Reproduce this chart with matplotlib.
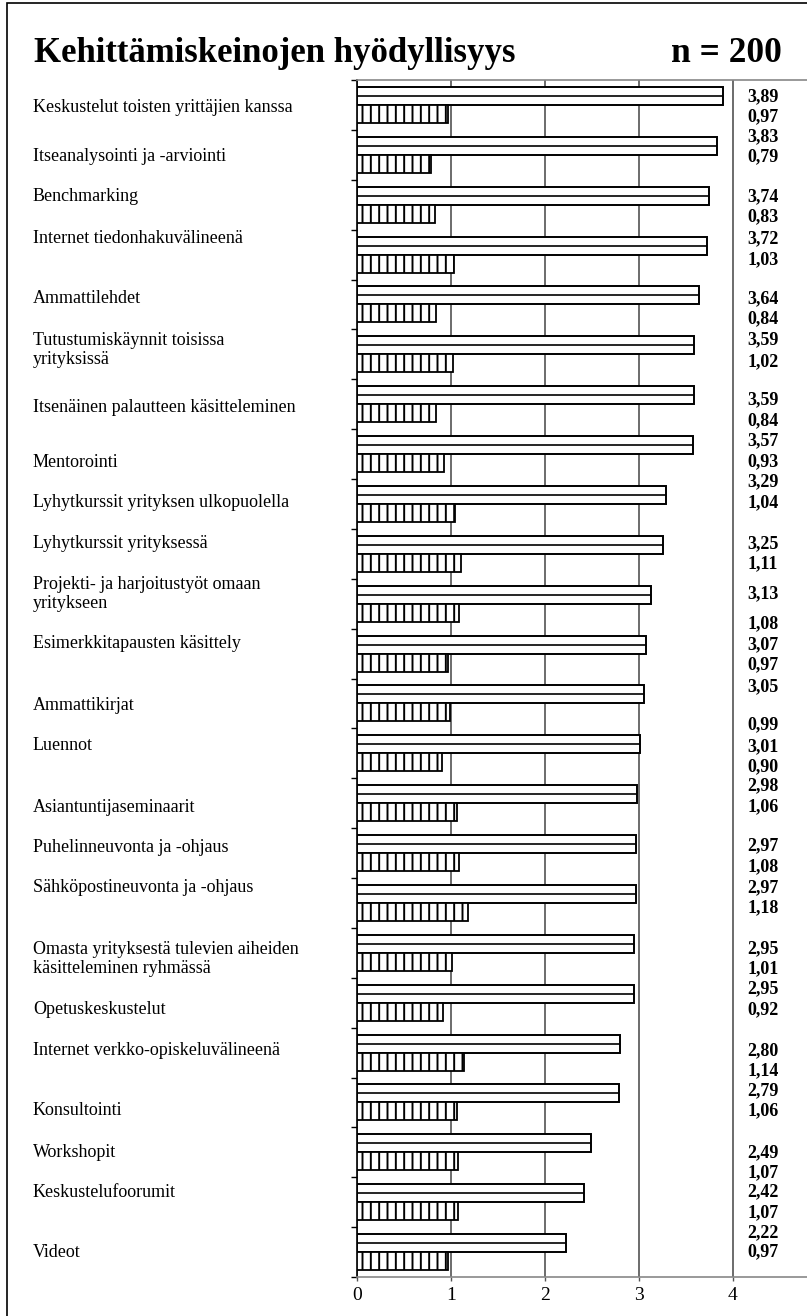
import matplotlib
matplotlib.use("Agg")
import matplotlib.pyplot as plt
from matplotlib.patches import Rectangle
from matplotlib.transforms import blended_transform_factory

# Kehittämiskeinojen hyödyllisyys (n = 200): keskiarvo ja keskihajonta
categories = [
    "Keskustelut toisten yrittäjien kanssa",
    "Itseanalysointi ja -arviointi",
    "Benchmarking",
    "Internet tiedonhakuvälineenä",
    "Ammattilehdet",
    "Tutustumiskäynnit toisissa\nyrityksissä",
    "Itsenäinen palautteen käsitteleminen",
    "Mentorointi",
    "Lyhytkurssit yrityksen ulkopuolella",
    "Lyhytkurssit yrityksessä",
    "Projekti- ja harjoitustyöt omaan\nyritykseen",
    "Esimerkkitapausten käsittely",
    "Ammattikirjat",
    "Luennot",
    "Asiantuntijaseminaarit",
    "Puhelinneuvonta ja -ohjaus",
    "Sähköpostineuvonta ja -ohjaus",
    "Omasta yrityksestä tulevien aiheiden\nkäsitteleminen ryhmässä",
    "Opetuskeskustelut",
    "Internet verkko-opiskeluvälineenä",
    "Konsultointi",
    "Workshopit",
    "Keskustelufoorumit",
    "Videot",
]
means = [3.89, 3.83, 3.74, 3.72, 3.64, 3.59, 3.59, 3.57, 3.29, 3.25, 3.13, 3.07,
         3.05, 3.01, 2.98, 2.97, 2.97, 2.95, 2.95, 2.80, 2.79, 2.49, 2.42, 2.22]
stds = [0.97, 0.79, 0.83, 1.03, 0.84, 1.02, 0.84, 0.93, 1.04, 1.11, 1.08, 0.97,
        0.99, 0.90, 1.06, 1.08, 1.18, 1.01, 0.92, 1.14, 1.06, 1.07, 1.07, 0.97]
x_ticks = [0, 1, 2, 3, 4, 5]

# the texts in the original were typed in by hand and don't sit exactly on
# the bars -- nudges in pixels from the middle of each row (+ = down)
label_dy = [3, 2, -8, -16, -6, -4, 3, 8, -1, -10, -10, -10,
            2, -8, 4, -6, -15, 6, 7, -2, 8, 0, -10, 0]
mean_dy = [-8, -18, -8, -16, -6, -15, -4, -13, -22, -10, -10, -9,
           -17, -7, -17, -7, -15, -4, -14, -2, -12, 0, -10, -19]
std_dy = [12, 2, 12, 5, 14, 7, 17, 8, -1, 10, 20, 11,
          21, 13, 4, 14, 5, 16, 7, 18, 8, 20, 11, 0]

W, H = 807, 1316
plt.rcParams["font.family"] = ["Liberation Serif", "DejaVu Serif"]
plt.rcParams["hatch.linewidth"] = 1.4

fig = plt.figure(figsize=(W / 100, H / 100), dpi=100)
ax = fig.add_axes([357 / W, 39 / H, 470 / W, 1197 / H])

n = len(categories)
pos = list(range(n))
row_px = 1197 / n
h = 0.36
mean_y = [p - h / 2 for p in pos]
std_y = [p + h / 2 for p in pos]

ax.barh(mean_y, means, height=h, color="white", edgecolor="black", linewidth=1.4, zorder=3)
ax.hlines(mean_y, 0, means, color="black", linewidth=1.2, zorder=4)
ax.barh(std_y, stds, height=h, color="white", edgecolor="black", linewidth=1.3,
        hatch="||", zorder=3)

ax.set_xlim(0, 5)
ax.set_ylim(n - 0.5, -0.5)
ax.set_xticks(x_ticks)
ax.set_xticklabels([str(t) for t in x_ticks], fontsize=14)
ax.set_yticks([p - 0.5 for p in pos] + [n - 0.5])
ax.set_yticklabels([])
ax.tick_params(axis="y", direction="out", length=4, width=1, color="black")
ax.tick_params(axis="x", direction="out", length=3, width=1, color="#555555", pad=4)

ax.grid(axis="x", color="#444444", linewidth=1.1)
ax.set_axisbelow(True)
for side in ("top", "bottom"):
    ax.spines[side].set_color("#888888")
    ax.spines[side].set_linewidth(1.2)
ax.spines["right"].set_visible(False)
ax.spines["left"].set_color("black")
ax.spines["left"].set_linewidth(1.2)

# category names on the left
lab_tr = blended_transform_factory(fig.transFigure, ax.transData)
for p, name, dy in zip(pos, categories, label_dy):
    ax.text(33 / W, p + dy / row_px, name, transform=lab_tr, ha="left", va="center",
            fontsize=13, linespacing=1.15)

# value labels on the right
for p, m, s, dm, ds in zip(pos, means, stds, mean_dy, std_dy):
    ax.text(4.15, p + dm / row_px, f"{m:.2f}".replace(".", ","), ha="left", va="center",
            fontsize=13, fontweight="bold", clip_on=False)
    ax.text(4.15, p + ds / row_px, f"{s:.2f}".replace(".", ","), ha="left", va="center",
            fontsize=13, fontweight="bold", clip_on=False)

fig.text(34 / W, 1 - 62 / H, "Kehittämiskeinojen hyödyllisyys", ha="left", va="baseline",
         fontsize=25, fontweight="bold")
fig.text(782 / W, 1 - 62 / H, "n = 200", ha="right", va="baseline",
         fontsize=25.5, fontweight="bold")

# frame around the picture (right and bottom edges fall outside)
fig.patches.append(Rectangle((7 / W, -0.1), 1.2, 1 - 3 / H + 0.1, transform=fig.transFigure,
                             fill=False, edgecolor="black", linewidth=1.2))

fig.savefig("out.png", dpi=100)
